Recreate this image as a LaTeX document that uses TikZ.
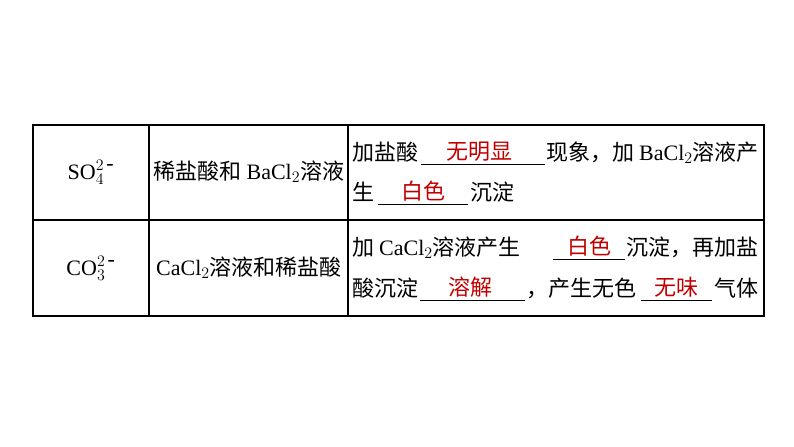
\documentclass[tikz,border=0pt]{standalone}
\usepackage{fontspec}
\setmainfont{Liberation Serif}
\newfontfamily\cjk{Noto Sans CJK SC}
\definecolor{ans}{RGB}{192,0,0}
\tikzset{t/.style={anchor=base west,inner sep=0pt,font=\fontsize{16.5}{18}\selectfont\cjk},
 c/.style={anchor=base,inner sep=0pt,font=\fontsize{16.5}{18}\selectfont\cjk},
 r/.style={anchor=base,inner sep=0pt,text=ans,font=\fontsize{16.5}{18}\selectfont\cjk},
 blank/.style={line width=0.6pt},
 grid/.style={line width=0.8pt}}
\newcommand{\lat}[1]{{\fontsize{16.5}{18}\rmfamily #1}}
\begin{document}
\begin{tikzpicture}[x=0.75pt,y=-0.75pt]
\useasboundingbox (0,0) rectangle (794,447);
\draw[grid] (33,125) rectangle (764,316);
\draw[grid] (33,220) -- (764,220);
\draw[grid] (149,125) -- (149,316);
\draw[grid] (348,125) -- (348,316);
% column 1
\node[c] (a1) at (91,179) {\lat{SO$_4^{2\,\mbox{-}}$}};
\node[c] (a2) at (91,275) {\lat{CO$_3^{2\,\mbox{-}}$}};
% column 2
\node[c] (b1) at (249,179) {稀盐酸和 \lat{BaCl$_2$}溶液};
\node[c] (b2) at (249,275) {\lat{CaCl$_2$}溶液和稀盐酸};
% row 1
\node[t] (p1) at (352,160) {加盐酸};
\coordinate (u1a) at (421,164); \coordinate (u1b) at (545,164);
\draw[blank] (u1a) -- (u1b);
\node[r] (r1) at (479,159) {无明显};
\node[t] (p2) at (546,160) {现象，加 \lat{BaCl$_2$}溶液产};
\node[t] (p3) at (352,200) {生};
\coordinate (u2a) at (378,204); \coordinate (u2b) at (468,204);
\draw[blank] (u2a) -- (u2b);
\node[r] (r2) at (423,199) {白色};
\node[t] (p4) at (470,200) {沉淀};
% row 2
\node[t] (q1) at (352,255) {加 \lat{CaCl$_2$}溶液产生};
\coordinate (v1a) at (553,259); \coordinate (v1b) at (625,259);
\draw[blank] (v1a) -- (v1b);
\node[r] (s1) at (589,254) {白色};
\node[t] (q2) at (626,255) {沉淀，再加盐};
\node[t] (q3) at (352,296) {酸沉淀};
\coordinate (v2a) at (420,300); \coordinate (v2b) at (525,300);
\draw[blank] (v2a) -- (v2b);
\node[r] (s2) at (470,295) {溶解};
\node[t] (q4) at (526,296) {，产生无色};
\coordinate (v3a) at (641,300); \coordinate (v3b) at (712,300);
\draw[blank] (v3a) -- (v3b);
\node[r] (s3) at (676,295) {无味};
\node[t] (q5) at (714,296) {气体};
\end{tikzpicture}
\end{document}
